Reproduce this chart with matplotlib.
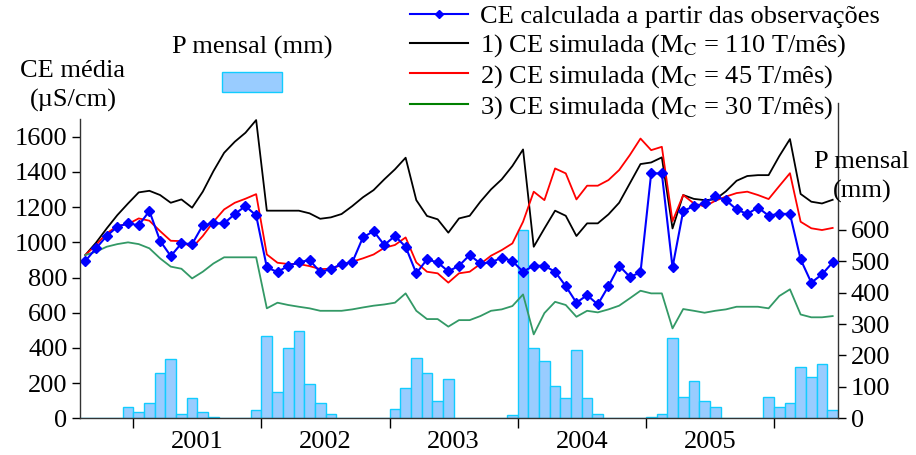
import matplotlib
matplotlib.use("Agg")
import matplotlib.pyplot as plt
from matplotlib.lines import Line2D
from matplotlib.patches import Patch
import numpy as np

plt.rcParams["font.family"] = ["Liberation Serif", "DejaVu Serif"]
plt.rcParams["mathtext.fontset"] = "stix"

FS = 19

# monthly categories, Aug 2000 .. Jun 2006
YEARS = ["2001", "2002", "2003", "2004", "2005"]
YEAR_START = [5, 17, 29, 41, 53, 65]

precip_mm = [
    0, 0, 0, 0, 35, 19, 49, 144, 189, 14, 64, 19, 5, 0, 0, 0,
    25, 263, 84, 223, 278, 108, 49, 14, 0, 0, 0, 0, 0,
    30, 95, 193, 144, 54, 124, 0, 0, 0, 0, 0,
    10, 600, 223, 184, 104, 64, 219, 64, 14, 0, 0, 0, 0,
    5, 14, 257, 69, 119, 54, 35, 0, 0, 0, 0,
    69, 35, 49, 164, 130, 174, 25,
]

ce_obs = [
    894, 966, 1036, 1089, 1108, 1097, 1178, 1009, 922, 994, 990, 1097, 1108, 1108, 1161, 1206, 1153,
    858, 831, 867, 886, 900, 831, 848, 877, 886, 1028, 1064, 985, 1036, 975,
    824, 903, 886, 835, 867, 928, 880, 886, 913, 894, 833,
    867, 867, 833, 751, 657, 700, 647, 751, 867, 804, 829, 1392, 1392,
    858, 1178, 1206, 1221, 1261, 1240, 1187, 1161, 1198, 1152, 1162, 1162, 903, 771, 818, 886,
]

ce_sim_110 = [
    928, 998, 1079, 1155, 1221, 1284, 1293, 1269, 1225, 1244, 1197, 1288, 1405, 1509, 1572, 1623, 1695,
    1180, 1180, 1180, 1180, 1165, 1134, 1142, 1161, 1206, 1256, 1297, 1358, 1415, 1481,
    1240, 1150, 1131, 1055, 1136, 1151, 1231, 1301, 1358, 1434, 1528,
    975, 1079, 1180, 1151, 1036, 1108, 1108, 1159, 1225, 1335, 1445, 1454, 1483,
    1079, 1269, 1247, 1240, 1244, 1290, 1350, 1377, 1382, 1382, 1490, 1587, 1275, 1231, 1221, 1242,
]

ce_sim_45 = [
    928, 985, 1051, 1093, 1104, 1136, 1123, 1064, 1009, 1007, 969, 1036, 1117, 1187, 1225, 1248, 1274,
    931, 884, 877, 877, 865, 848, 850, 871, 890, 909, 931, 969, 985, 1028,
    886, 833, 824, 771, 824, 833, 877, 924, 956, 994, 1117,
    1288, 1240, 1420, 1392, 1244, 1322, 1322, 1354, 1411, 1496, 1590, 1524, 1543,
    1120, 1269, 1221, 1204, 1236, 1260, 1280, 1288, 1269, 1246, 1320, 1393, 1117, 1080, 1070, 1082,
]

ce_sim_30 = [
    928, 947, 975, 990, 1000, 990, 966, 909, 862, 850, 795, 833, 880, 915, 915, 915, 915,
    625, 657, 644, 634, 625, 611, 611, 611, 619, 630, 640, 647, 657, 710,
    611, 564, 564, 521, 558, 558, 581, 611, 619, 638, 704,
    477, 598, 662, 644, 577, 611, 602, 619, 640, 682, 725, 710, 710,
    511, 621, 611, 600, 611, 619, 634, 634, 634, 625, 695, 733, 590, 574, 574, 581,
]

LABELS = [
    "CE calculada a partir das observações",
    "1) CE simulada (M$_{\\mathrm{C}}$ = 110 T/mês)",
    "2) CE simulada (M$_{\\mathrm{C}}$ = 45 T/mês)",
    "3) CE simulada (M$_{\\mathrm{C}}$ = 30 T/mês)",
]

x = np.arange(len(precip_mm))

fig = plt.figure(figsize=(9.16, 4.55), dpi=100)
ax = fig.add_axes([80 / 916, 1 - 418.3 / 455, 758 / 916, 315.3 / 455])
ax2 = ax.twinx()
ax.set_zorder(ax2.get_zorder() + 1)
ax.patch.set_visible(False)

# precipitation bars (right axis)
ax2.bar(x, precip_mm, width=1.0, color="#99CCFF", edgecolor="#11CCFF", linewidth=1.0)
ax2.set_ylim(0, 1004)
ax2.set_yticks(range(0, 700, 100))
ax2.tick_params(axis="y", direction="out", length=6, width=1, labelsize=FS, pad=3)
for s in ["top", "left", "bottom"]:
    ax2.spines[s].set_visible(False)
ax2.spines["right"].set_linewidth(1.0)
ax2.spines["right"].set_color("#333333")

# conductivity lines (left axis)
ax.plot(x, ce_sim_110, color="black", lw=1.3)
ax.plot(x, ce_sim_45, color="#FF0000", lw=1.3)
ax.plot(x, ce_sim_30, color="#339966", lw=1.3)
ax.plot(x, ce_obs, color="#0000FF", lw=1.5, marker="D", ms=5.5, mec="#0000FF")

ax.set_xlim(-0.5, len(x) - 0.5)
ax.set_ylim(0, 1792)
ax.set_yticks(range(0, 1700, 200))
ax.spines["left"].set_bounds(0, 1700)
ax.spines["top"].set_visible(False)
ax.spines["right"].set_visible(False)
for s in ["left", "bottom"]:
    ax.spines[s].set_color("#333333")
    ax.spines[s].set_linewidth(1.0)
ax.tick_params(axis="y", direction="out", length=6, width=1, labelsize=FS, pad=3)

ax.set_xticks([v - 0.5 for v in YEAR_START])
ax.set_xticklabels([])
ax.set_xticks([(YEAR_START[i] + YEAR_START[i + 1]) / 2 - 0.5 for i in range(len(YEARS))], minor=True)
ax.set_xticklabels(YEARS, minor=True)
ax.tick_params(axis="x", which="major", direction="out", length=7, width=1)
ax.tick_params(axis="x", which="minor", length=0, labelsize=FS, pad=9)

# labels
fig.text(73 / 916, 1 - 86 / 455, "CE média\n(µS/cm)", ha="center", va="center",
         fontsize=FS, linespacing=1.35)
fig.text(862 / 916, 1 - 177 / 455, "P mensal\n(mm)", ha="center", va="center",
         fontsize=FS, linespacing=1.35)

# legends
handles = [
    Line2D([], [], color="#0000FF", lw=1.5, marker="D", ms=4),
    Line2D([], [], color="black", lw=1.5),
    Line2D([], [], color="#FF0000", lw=1.5),
    Line2D([], [], color="#008000", lw=1.5),
]
fig.legend(handles, LABELS, loc="upper left", bbox_to_anchor=(410 / 916, 1 - 5 / 455),
           frameon=False, fontsize=FS, handlelength=2.2, handletextpad=0.45,
           labelspacing=0.15, borderpad=0, borderaxespad=0)

bar_handle = Patch(facecolor="#99CCFF", edgecolor="#11CCFF", linewidth=1.0)
fig.legend([bar_handle], [""], title="P mensal (mm)", title_fontsize=FS,
           loc="upper center", bbox_to_anchor=(252 / 916, 1 - 36 / 455),
           frameon=False, fontsize=FS, handlelength=2.3, handleheight=0.75,
           handletextpad=0, borderpad=0, borderaxespad=0)

fig.savefig("out.png", dpi=100)
